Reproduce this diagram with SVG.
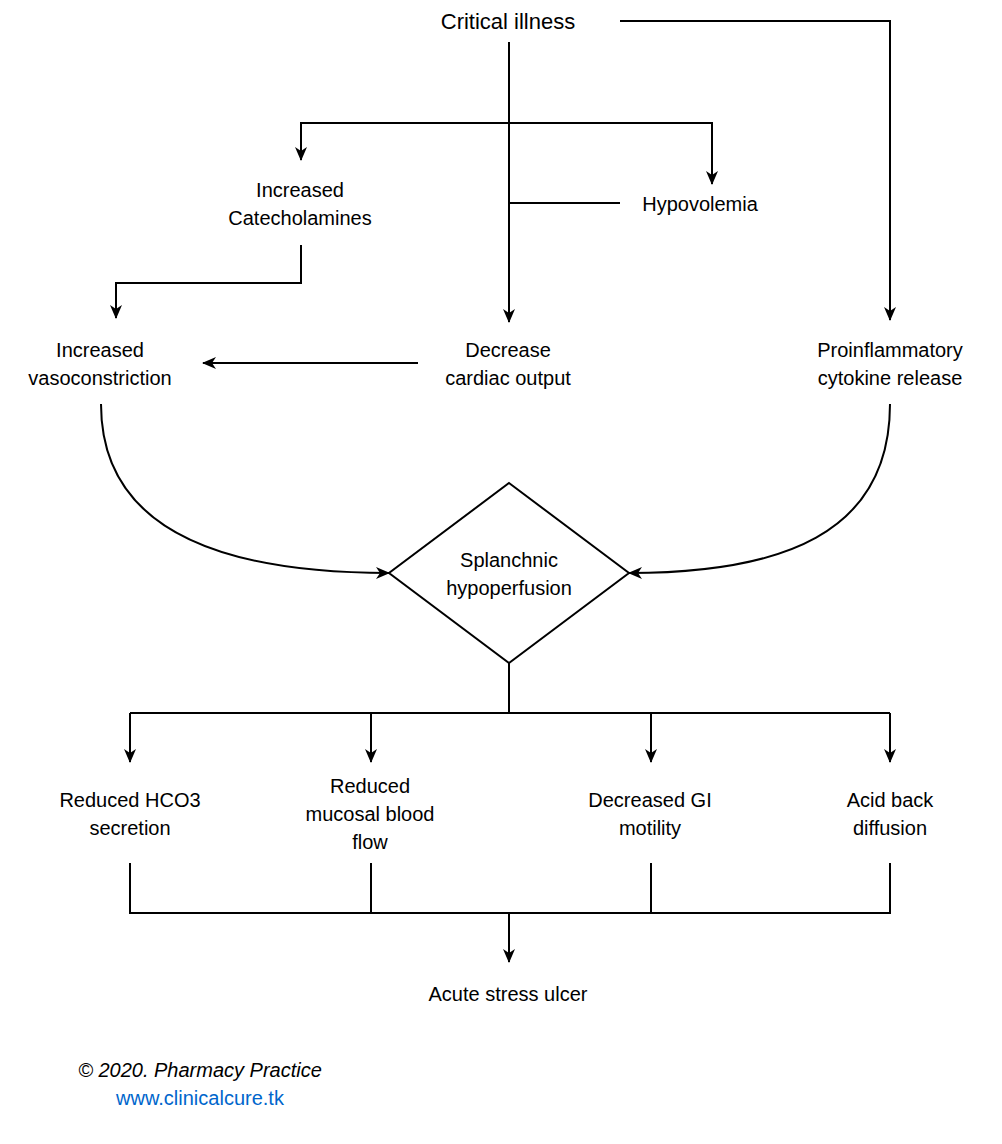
<svg xmlns="http://www.w3.org/2000/svg" width="1002" height="1144" viewBox="0 0 1002 1144">
<style>
text{font-family:"Liberation Sans",Arial,sans-serif;font-size:20px;fill:#000;text-anchor:middle}
.c{fill:none;stroke:#000;stroke-width:2}
</style>
<defs>
<marker id="a" viewBox="0 0 14 12" refX="13" refY="6" markerWidth="14" markerHeight="12" markerUnits="userSpaceOnUse" orient="auto">
<path d="M0,0 L14,6 L0,12 L4,6 Z" fill="#000"/>
</marker>
</defs>
<rect width="1002" height="1144" fill="#fff"/>
<g id="connectors">
<path class="c" d="M620,21 H890 V320" marker-end="url(#a)"/>
<path class="c" d="M509,42 V322" marker-end="url(#a)"/>
<path class="c" d="M509,123 H301 V160" marker-end="url(#a)"/>
<path class="c" d="M509,123 H712 V184" marker-end="url(#a)"/>
<path class="c" d="M620,203 H509"/>
<path class="c" d="M301,245 V283 H116 V318" marker-end="url(#a)"/>
<path class="c" d="M418,363 H203" marker-end="url(#a)"/>
<path class="c" d="M101,404 C101,535 230,573 389,573" marker-end="url(#a)"/>
<path class="c" d="M890,404 C890,535 780,573 629,573" marker-end="url(#a)"/>
<path class="c" d="M509,663 V713"/>
<path class="c" d="M130,713 H890"/>
<path class="c" d="M130,713 V762" marker-end="url(#a)"/>
<path class="c" d="M371,713 V762" marker-end="url(#a)"/>
<path class="c" d="M651,713 V762" marker-end="url(#a)"/>
<path class="c" d="M890,713 V762" marker-end="url(#a)"/>
<path class="c" d="M130,863 V913 H890 V863 M371,863 V913 M651,863 V913"/>
<path class="c" d="M509,913 V962" marker-end="url(#a)"/>
</g>
<g id="critical"><text x="508" y="29" style="font-size:22px">Critical illness</text></g>
<g id="catecholamines"><text x="300" y="197">Increased</text><text x="300" y="225">Catecholamines</text></g>
<g id="hypovolemia"><text x="700" y="211">Hypovolemia</text></g>
<g id="vasoconstriction"><text x="100" y="357">Increased</text><text x="100" y="385">vasoconstriction</text></g>
<g id="cardiac"><text x="508" y="357">Decrease</text><text x="508" y="385">cardiac output</text></g>
<g id="cytokine"><text x="890" y="357">Proinflammatory</text><text x="890" y="385">cytokine release</text></g>
<g id="splanchnic"><path d="M509,483 L629,573 L509,663 L389,573 Z" fill="#fff" stroke="#000" stroke-width="2"/><text x="509" y="567">Splanchnic</text><text x="509" y="595">hypoperfusion</text></g>
<g id="hco3"><text x="130" y="807">Reduced HCO3</text><text x="130" y="835">secretion</text></g>
<g id="mucosal"><text x="370" y="793">Reduced</text><text x="370" y="821">mucosal blood</text><text x="370" y="849">flow</text></g>
<g id="motility"><text x="650" y="807">Decreased GI</text><text x="650" y="835">motility</text></g>
<g id="acid"><text x="890" y="807">Acid back</text><text x="890" y="835">diffusion</text></g>
<g id="ulcer"><text x="508" y="1001">Acute stress ulcer</text></g>
<g id="credit"><text x="200" y="1077" style="font-style:italic">© 2020. Pharmacy Practice</text><text x="200" y="1105" style="fill:#0066cc">www.clinicalcure.tk</text></g>
</svg>
